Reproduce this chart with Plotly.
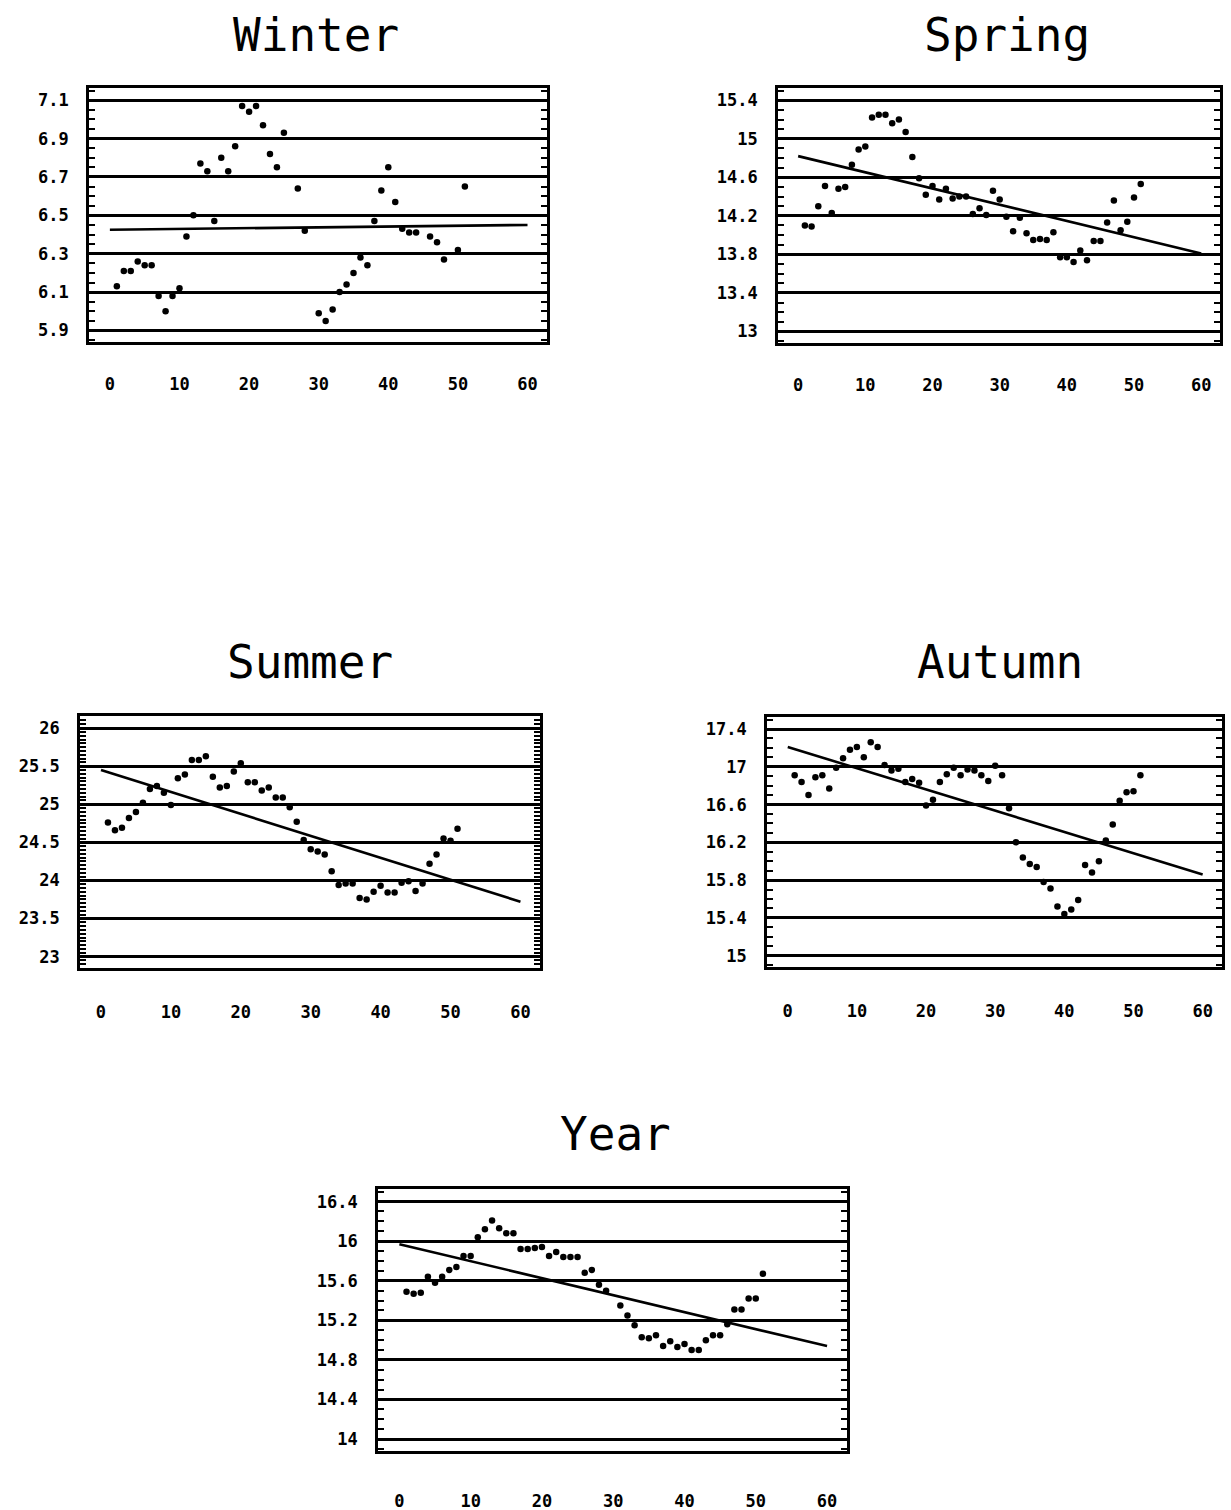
import plotly.graph_objects as go

# ---------------- data ----------------
titles = ["Winter", "Spring", "Summer", "Autumn", "Year"]

winter_x = [1, 2, 3, 4, 5, 6, 7, 8, 9, 10, 11, 12, 13, 14, 15, 16, 17, 18, 19, 20, 21, 22, 23, 24, 25,
            27, 28, 30, 31, 32, 33, 34, 35, 36, 37, 38, 39, 40, 41, 42, 43, 44, 46, 47, 48, 50, 51]
winter_y = [6.13, 6.21, 6.21, 6.26, 6.24, 6.24, 6.08, 6.00, 6.08, 6.12, 6.39, 6.50, 6.77, 6.73, 6.47,
            6.80, 6.73, 6.86, 7.07, 7.04, 7.07, 6.97, 6.82, 6.75, 6.93,
            6.64, 6.42, 5.99, 5.95, 6.01, 6.10, 6.14, 6.20, 6.28, 6.24, 6.47, 6.63, 6.75, 6.57, 6.43,
            6.41, 6.41, 6.39, 6.36, 6.27, 6.32, 6.65]

spring_x = list(range(1, 52))
spring_y = [14.10, 14.09, 14.30, 14.51, 14.23, 14.48, 14.50, 14.73, 14.89, 14.92, 15.22, 15.25, 15.25,
            15.16, 15.20, 15.07, 14.81, 14.59, 14.42, 14.51, 14.37, 14.48, 14.38, 14.40, 14.40, 14.22,
            14.28, 14.21, 14.46, 14.37, 14.19, 14.04, 14.18, 14.02, 13.95, 13.96, 13.95, 14.03, 13.77,
            13.77, 13.72, 13.84, 13.74, 13.94, 13.94, 14.13, 14.36, 14.05, 14.14, 14.39, 14.53]

summer_x = list(range(1, 52))
summer_y = [24.76, 24.66, 24.69, 24.82, 24.90, 25.02, 25.20, 25.24, 25.15, 24.99, 25.34, 25.39, 25.58,
            25.58, 25.63, 25.36, 25.22, 25.24, 25.43, 25.54, 25.29, 25.29, 25.18, 25.22, 25.09, 25.09,
            24.96, 24.77, 24.53, 24.41, 24.38, 24.34, 24.12, 23.94, 23.96, 23.96, 23.77, 23.75, 23.85,
            23.93, 23.84, 23.84, 23.97, 23.99, 23.86, 23.96, 24.22, 24.34, 24.55, 24.52, 24.68]

autumn_x = list(range(1, 52))
autumn_y = [16.91, 16.84, 16.70, 16.89, 16.91, 16.77, 16.99, 17.09, 17.18, 17.21, 17.10, 17.26, 17.21,
            17.02, 16.96, 16.98, 16.84, 16.87, 16.83, 16.59, 16.65, 16.84, 16.92, 16.99, 16.91, 16.97,
            16.96, 16.91, 16.85, 17.01, 16.91, 16.56, 16.20, 16.04, 15.97, 15.94, 15.78, 15.71, 15.52,
            15.44, 15.49, 15.59, 15.96, 15.88, 16.00, 16.22, 16.39, 16.64, 16.73, 16.74, 16.91]

year_x = [1, 2, 3, 4, 5, 6, 7, 8, 9, 10, 11, 12, 13, 14, 15, 16, 17, 18, 19, 20, 21, 22, 23, 24, 25,
          26, 27, 28, 29, 31, 32, 33, 34, 35, 36, 37, 38, 39, 40, 41, 42, 43, 44, 45, 46, 47, 48, 49, 50, 51]
year_y = [15.49, 15.47, 15.48, 15.64, 15.58, 15.64, 15.71, 15.74, 15.85, 15.85, 16.04, 16.12, 16.21,
          16.13, 16.08, 16.08, 15.92, 15.92, 15.93, 15.94, 15.85, 15.89, 15.84, 15.84, 15.84, 15.68,
          15.71, 15.56, 15.50, 15.35, 15.25, 15.15, 15.03, 15.02, 15.05, 14.94, 14.99, 14.93, 14.96,
          14.90, 14.90, 15.00, 15.05, 15.05, 15.16, 15.31, 15.31, 15.42, 15.42, 15.67]

trend_x = [0, 60]
winter_trend = [6.425, 6.45]
spring_trend = [14.82, 13.81]
summer_trend = [25.45, 23.72]
autumn_trend = [17.21, 15.86]
year_trend = [15.97, 14.94]

winter_ticks = [5.9, 6.1, 6.3, 6.5, 6.7, 6.9, 7.1]
winter_labels = ["5.9", "6.1", "6.3", "6.5", "6.7", "6.9", "7.1"]
spring_ticks = [13.0, 13.4, 13.8, 14.2, 14.6, 15.0, 15.4]
spring_labels = ["13", "13.4", "13.8", "14.2", "14.6", "15", "15.4"]
summer_ticks = [23.0, 23.5, 24.0, 24.5, 25.0, 25.5, 26.0]
summer_labels = ["23", "23.5", "24", "24.5", "25", "25.5", "26"]
autumn_ticks = [15.0, 15.4, 15.8, 16.2, 16.6, 17.0, 17.4]
autumn_labels = ["15", "15.4", "15.8", "16.2", "16.6", "17", "17.4"]
year_ticks = [14.0, 14.4, 14.8, 15.2, 15.6, 16.0, 16.4]
year_labels = ["14", "14.4", "14.8", "15.2", "15.6", "16", "16.4"]

x_ticks = [0, 10, 20, 30, 40, 50, 60]
x_labels = ["0", "10", "20", "30", "40", "50", "60"]

# ---------------- layout geometry (pixels) ----------------
W, H = 1231, 1510
panels = [
    # title, xs, ys, trend, yticks, ylabels, frame(l, r, t, b), title center (x, y), minor subdivisions, x label standoff
    ("Winter", winter_x, winter_y, winter_trend, winter_ticks, winter_labels, (89, 547, 88, 342), (316, 35), 4, 25),
    ("Spring", spring_x, spring_y, spring_trend, spring_ticks, spring_labels, (778, 1220, 88, 343), (1007, 35), 4, 25),
    ("Summer", summer_x, summer_y, summer_trend, summer_ticks, summer_labels, (80, 540, 716, 968), (310, 662), 10, 27),
    ("Autumn", autumn_x, autumn_y, autumn_trend, autumn_ticks, autumn_labels, (767, 1222, 717, 967), (1000, 662), 4, 27),
    ("Year", year_x, year_y, year_trend, year_ticks, year_labels, (378, 847, 1189, 1451), (615, 1134), 4, 33),
]

fig = go.Figure()
tick_font = dict(family="DejaVu Sans Mono", size=17, color="black", weight="bold")
layout = dict(
    width=W, height=H, margin=dict(l=0, r=0, t=0, b=0),
    paper_bgcolor="white", plot_bgcolor="white", showlegend=False,
    annotations=[],
)

for i, (title, xs, ys, trend, yt, yl, frame, tc, nsub, xstand) in enumerate(panels):
    n = "" if i == 0 else str(i + 1)
    xa, ya = "x" + n, "y" + n
    fig.add_trace(go.Scatter(x=trend_x, y=trend, mode="lines", xaxis=xa, yaxis=ya,
                             line=dict(color="black", width=2.6), hoverinfo="skip"))
    fig.add_trace(go.Scatter(x=xs, y=ys, mode="markers", xaxis=xa, yaxis=ya,
                             marker=dict(color="black", size=6.5, line=dict(width=0))))
    l, r, t, b = frame
    step = yt[1] - yt[0]
    span = yt[-1] - yt[0]
    layout["xaxis" + n] = dict(
        domain=[l / W, r / W], anchor=ya, range=[-3.0, 62.8],
        tickmode="array", tickvals=x_ticks, ticktext=x_labels,
        showgrid=False, zeroline=False, showline=True, mirror=True,
        linecolor="black", linewidth=2.6, ticks="", ticklabelstandoff=xstand,
        tickfont=tick_font, fixedrange=True,
    )
    layout["yaxis" + n] = dict(
        domain=[1 - b / H, 1 - t / H], anchor=xa,
        range=[yt[0] - 0.05 * span, yt[-1] + 0.053 * span],
        tickmode="array", tickvals=yt, ticktext=yl,
        showgrid=True, gridcolor="black", gridwidth=2.6,
        zeroline=False, showline=True, mirror="allticks",
        linecolor="black", linewidth=2.6,
        ticks="inside", ticklen=6, tickwidth=2, tickcolor="black",
        minor=dict(tick0=yt[0], dtick=step / nsub, ticks="inside", ticklen=6,
                   tickwidth=2, tickcolor="black", showgrid=False),
        ticklabelstandoff=14, tickfont=tick_font, fixedrange=True,
    )
    layout["annotations"].append(dict(
        text=title, x=tc[0] / W, y=1 - tc[1] / H, xref="paper", yref="paper",
        xanchor="center", yanchor="middle", showarrow=False,
        font=dict(family="DejaVu Sans Mono", size=46, color="black"),
    ))

fig.update_layout(**layout)
fig.write_html("out.html")
